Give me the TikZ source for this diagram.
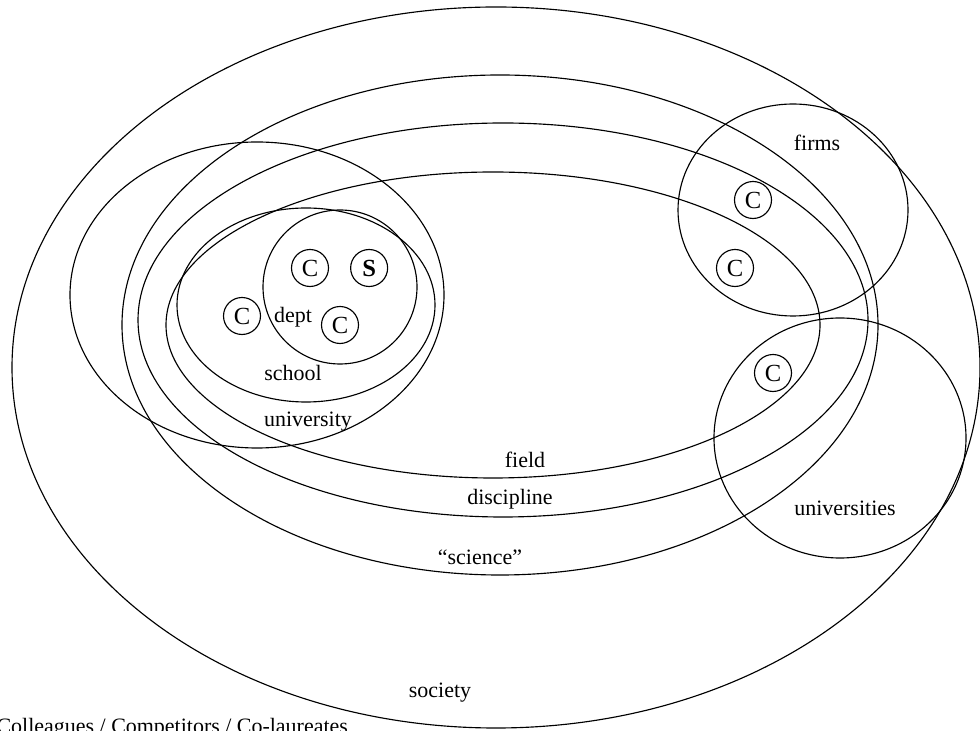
\documentclass[tikz,border=0pt]{standalone}
\usepackage{fontspec}
\setmainfont{Liberation Serif}
\usetikzlibrary{positioning}
\begin{document}
\begin{tikzpicture}[x=0.02cm, y=0.02cm, line width=0.65pt, node distance=0.42cm,
  every node/.style={font=\fontsize{12.5}{15}\selectfont},
  member/.style={draw, circle, minimum size=0.74cm, inner sep=0pt,
    font=\fontsize{14}{16}\selectfont}]
\useasboundingbox (0,0) rectangle (980,730);
\clip (0,0) rectangle (980,730);

\draw (496,362.5) ellipse [x radius=484, y radius=360.5];
\draw (500,405) ellipse [x radius=378, y radius=250];
\draw (503,410) ellipse [x radius=365, y radius=197];
\draw (493,405) ellipse [x radius=327, y radius=153];
\draw (257,435) ellipse [x radius=187, y radius=153];
\draw (306,425) ellipse [x radius=129, y radius=97];
\draw (340,443) circle [radius=77];
\draw (793,520) ellipse [x radius=115, y radius=106];
\draw (840,292) ellipse [x radius=126, y radius=120];

\node (C1) [member] at (310,462) {C};
\node (S) [member, right=of C1] {\textbf{S}};
\node (C2) [member] at (242,414) {C};
\node (C3) [member] at (340,405) {C};
\node (C4) [member] at (753,530) {C};
\node (C5) [member] at (735,462) {C};
\node (C6) [member] at (773,357) {C};

\node (dept) at (293,413) {dept};
\node (school) at (293,357) {school};
\node (university) at (308,308) {university};
\node (field) at (525,270) {field};
\node (discipline) at (510,231) {discipline};
\node (science) at (480,173) {``science''};
\node (society) at (440,37) {society};
\node (firms) at (817,587) {firms};
\node (universities) at (845,222) {universities};
\node (legend) [anchor=base west, inner sep=0pt] at (-4,-3) {Colleagues / Competitors / Co-laureates};
\end{tikzpicture}
\end{document}
